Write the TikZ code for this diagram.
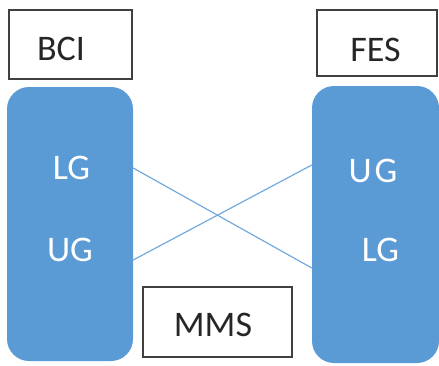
\documentclass[tikz,border=0pt]{standalone}
\usepackage{fontspec}
\setmainfont{Carlito}
\definecolor{officeblue}{HTML}{5B9BD5}
\definecolor{boxedge}{HTML}{404040}
\begin{document}
\begin{tikzpicture}[x=1pt,y=1pt,
  label box/.style={draw=boxedge, line width=1.6pt, fill=white, inner sep=0pt},
  btext/.style={text=black!85, font=\fontsize{36}{42}\selectfont, inner sep=0pt},
  blue col/.style={fill=officeblue, rounded corners=22pt, inner sep=0pt},
  wtext/.style={text=white, font=\fontsize{36}{42}\selectfont, inner sep=0pt},
  link/.style={draw=officeblue!85, line width=1.2pt}]
\useasboundingbox (0,0) rectangle (439,365);
% label boxes
\node[label box, minimum width=123pt, minimum height=69pt] (bci) at (70.5,320.5) {};
\node[label box, minimum width=120pt, minimum height=66pt] (fes) at (377,322) {};
\node[label box, minimum width=149pt, minimum height=70pt] (mms) at (217.5,43) {};
\node[btext] (bcit) at (61,316) {BCI};
\node[btext] (fest) at (375.5,315.5) {FES};
\node[btext] (mmst) at (213,40) {MMS};
% blue columns
\node[blue col, minimum width=126pt, minimum height=274pt] (lcol) at (70,141) {};
\node[blue col, minimum width=127pt, minimum height=277pt] (rcol) at (375.5,140.5) {};
% texts
\node[wtext] (llg) at (71.5,197.5) {LG};
\node[wtext] (lug) at (70,115.5) {UG};
\node[wtext] (rug) at (373,194.5) {U\kern3pt G};
\node[wtext] (rlg) at (380.5,115) {LG};
% connectors
\coordinate (a1) at (lcol.east |- 0,197);
\coordinate (a2) at (rcol.west |- 0,97);
\coordinate (b1) at (lcol.east |- 0,105);
\coordinate (b2) at (rcol.west |- 0,200);
\draw[link] (a1) -- (a2);
\draw[link] (b1) -- (b2);
\end{tikzpicture}
\end{document}
